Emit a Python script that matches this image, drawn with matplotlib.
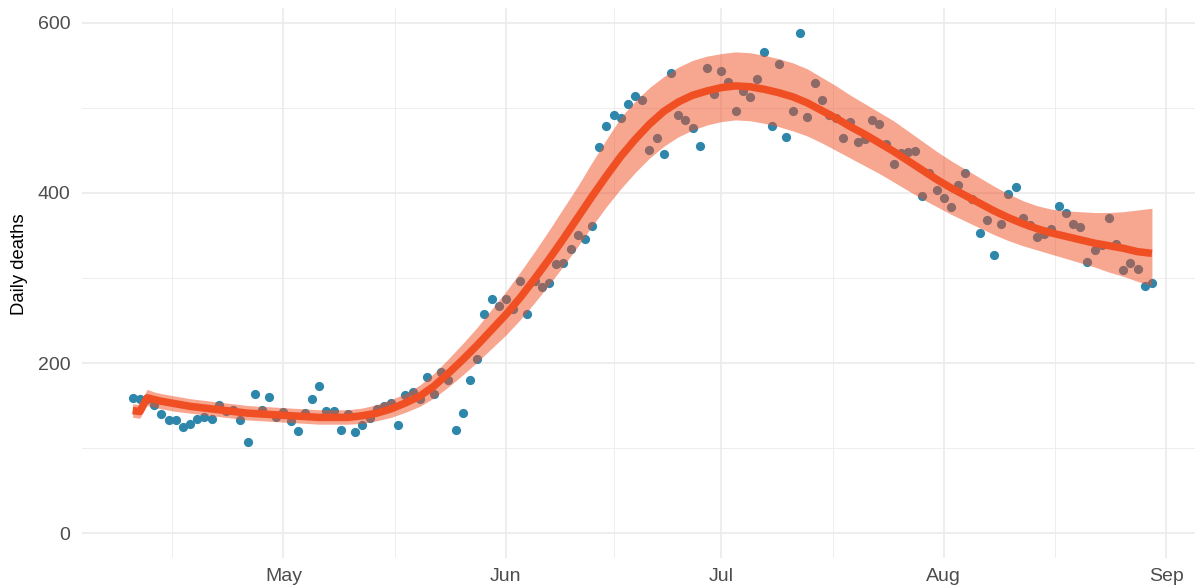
import numpy as np
import pandas as pd
import matplotlib
matplotlib.use("Agg")
import matplotlib.pyplot as plt
import matplotlib.dates as mdates

plt.rcParams['font.family'] = ['Liberation Sans', 'DejaVu Sans']

# daily counts, one per day from 10 April
start = pd.Timestamp("2020-04-10")
deaths = [
    159, 158, 158, 151, 140, 133, 133, 125, 128, 134,
    136, 134, 151, 143, 145, 133, 107, 163, 145, 160,
    136, 142, 132, 120, 141, 158, 173, 144, 144, 121,
    140, 119, 127, 135, 146, 149, 153, 127, 162, 166,
    158, 183, 164, 189, 180, 121, 141, 180, 205, 258,
    275, 267, 275, 263, 296, 258, 296, 289, 294, 316,
    318, 334, 350, 346, 361, 454, 479, 492, 488, 505,
    514, 509, 451, 465, 446, 541, 492, 486, 477, 455,
    547, 516, 543, 531, 497, 520, 513, 534, 566, 479,
    552, 466, 496, 588, 489, 529, 509, 492, 488, 465,
    484, 460, 464, 486, 481, 458, 434, 447, 448, 449,
    397, 424, 403, 394, 383, 409, 424, 393, 353, 368,
    327, 364, 399, 407, 371, 362, 348, 352, 358, 385,
    377, 364, 360, 319, 333, 339, 370, 340, 309, 318,
    310, 291, 294,
]

# smoothed trend with its confidence band (day offsets from start)
fit_day = [0, 1] + list(range(2, 143, 2))
fit_day.insert(3, 3)
fit_mid = [144, 143, 159, 157, 155, 152, 149, 147, 145, 143, 141, 140, 139,
           138, 137, 136, 136, 136, 138, 141, 146, 153, 161, 173, 188, 204,
           221, 239, 257, 277, 299, 322, 346, 371, 396, 420, 443, 463, 481,
           496, 507, 515, 520, 524, 526, 525, 522, 518, 513, 506, 497, 488,
           478, 469, 459, 449, 438, 427, 416, 406, 397, 388, 379, 371, 364,
           358, 353, 349, 345, 341, 338, 335, 331, 329]
fit_lo = [136, 135, 150, 148, 146, 143, 141, 139, 137, 135, 133, 132, 131,
          130, 129, 128, 128, 128, 129, 132, 136, 142, 149, 159, 172, 186,
          201, 217, 233, 251, 271, 292, 314, 337, 361, 384, 405, 424, 441,
          455, 466, 474, 480, 484, 486, 485, 482, 478, 473, 467, 459, 450,
          441, 432, 423, 413, 403, 393, 384, 375, 367, 359, 351, 344, 338,
          333, 328, 323, 318, 313, 307, 302, 296, 291]
fit_hi = [152, 151, 169, 166, 164, 161, 158, 156, 154, 152, 150, 149, 148,
          147, 146, 145, 145, 145, 147, 151, 157, 164, 174, 188, 205, 223,
          242, 263, 284, 307, 331, 356, 382, 408, 436, 463, 489, 508, 524,
          537, 548, 556, 561, 564, 566, 565, 562, 558, 553, 546, 536, 526,
          515, 505, 495, 485, 473, 461, 449, 438, 428, 418, 408, 399, 391,
          385, 381, 379, 378, 377, 377, 378, 380, 382]

dates = start + pd.to_timedelta(np.arange(len(deaths)), unit="D")
fit_dates = start + pd.to_timedelta(fit_day, unit="D")

month_starts = pd.to_datetime(["2020-05-01", "2020-06-01", "2020-07-01",
                               "2020-08-01", "2020-09-01"])
# minor breaks sit halfway between the month breaks
edges = [month_starts[0] - (month_starts[1] - month_starts[0])] + list(month_starts)
minor_breaks = [a + (b - a) / 2 for a, b in zip(edges[:-1], edges[1:])]

fig = plt.figure(figsize=(11.95, 5.88), dpi=100)
ax = fig.add_axes([81.7 / 1195, 30 / 588, 1 - 81.7 / 1195, 549.8 / 588])

ax.scatter(dates, deaths, s=44, color="#2E86AB", linewidths=0, zorder=2)
ax.fill_between(fit_dates, fit_lo, fit_hi, color="#F04E23", alpha=0.5,
                linewidth=0, zorder=3)
ax.plot(fit_dates, fit_mid, color="#F04E23", lw=5.4, solid_capstyle="butt",
        solid_joinstyle="round", zorder=4)

ax.set_xlim(start - pd.Timedelta(days=7.1), start + pd.Timedelta(days=148))
ax.set_ylim(-29.4, 617.4)
ax.set_yticks([0, 200, 400, 600])
ax.set_yticks([100, 300, 500], minor=True)
ax.set_xticks(month_starts)
ax.set_xticks(minor_breaks, minor=True)
ax.xaxis.set_major_formatter(mdates.DateFormatter("%b"))

ax.grid(True, which="major", color="#EBEBEB", lw=1.2)
ax.grid(True, which="minor", color="#EBEBEB", lw=0.6)
ax.set_axisbelow(True)
for s in ax.spines.values():
    s.set_visible(False)
ax.tick_params(which="both", length=0)
ax.tick_params(axis="y", labelsize=14, labelcolor="#4D4D4D", pad=8)
ax.tick_params(axis="x", labelsize=14, labelcolor="#4D4D4D", pad=7)

fig.text(20 / 1195, 1 - 264 / 588, "Daily deaths", rotation=90,
         ha="center", va="center", fontsize=13.3, color="black")

fig.savefig("out.png", dpi=100)
